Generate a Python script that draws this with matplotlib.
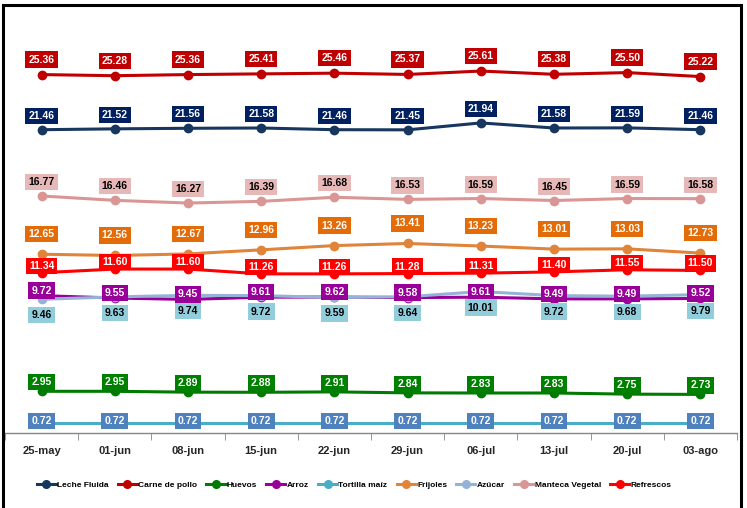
import matplotlib.pyplot as plt
from matplotlib import font_manager as fm
from matplotlib.patches import Rectangle
from matplotlib.lines import Line2D

# pick a narrow font if there is one (Excel chart uses Calibri)
fam = 'Liberation Sans'
try:
    fm.findfont(fm.FontProperties(family='Liberation Sans Narrow'), fallback_to_default=False)
    fam = 'Liberation Sans Narrow'
except Exception:
    pass
plt.rcParams['font.family'] = [fam, 'DejaVu Sans']

fechas = ['25-may', '01-jun', '08-jun', '15-jun', '22-jun', '29-jun', '06-jul', '13-jul', '20-jul', '03-ago']

leche = [21.46, 21.52, 21.56, 21.58, 21.46, 21.45, 21.94, 21.58, 21.59, 21.46]
carne = [25.36, 25.28, 25.36, 25.41, 25.46, 25.37, 25.61, 25.38, 25.50, 25.22]
huevos = [2.95, 2.95, 2.89, 2.88, 2.91, 2.84, 2.83, 2.83, 2.75, 2.73]
arroz = [9.72, 9.55, 9.45, 9.61, 9.62, 9.58, 9.61, 9.49, 9.49, 9.52]
tortilla = [0.72, 0.72, 0.72, 0.72, 0.72, 0.72, 0.72, 0.72, 0.72, 0.72]
frijoles = [12.65, 12.56, 12.67, 12.96, 13.26, 13.41, 13.23, 13.01, 13.03, 12.73]
azucar = [9.46, 9.63, 9.74, 9.72, 9.59, 9.64, 10.01, 9.72, 9.68, 9.79]
manteca = [16.77, 16.46, 16.27, 16.39, 16.68, 16.53, 16.59, 16.45, 16.59, 16.58]
refrescos = [11.34, 11.60, 11.60, 11.26, 11.26, 11.28, 11.31, 11.40, 11.55, 11.50]

# name, values, line colour, label box colour, label text colour, label offset (px)
series = [
    ('Leche Fluida', leche, '#17375E', '#002060', 'white', 14),
    ('Carne de pollo', carne, '#C00000', '#C00000', 'white', 15),
    ('Huevos', huevos, '#007A00', '#008000', 'white', 9),
    ('Arroz', arroz, '#990099', '#990099', 'white', 5),
    ('Tortilla maíz', tortilla, '#4BACC6', '#4F81BD', 'white', 2),
    ('Frijoles', frijoles, '#E0843A', '#E36C09', 'white', 20),
    ('Azúcar', azucar, '#95B3D7', '#92CDDC', 'black', -16),
    ('Manteca Vegetal', manteca, '#D99694', '#E6B9B8', 'black', 14),
    ('Refrescos', refrescos, '#FF0000', '#FF0000', 'white', 7),
]

fig = plt.figure(figsize=(7.47, 5.08), dpi=100)
ax = fig.add_axes([5/747, 1 - 433/508, 732/747, 424/508])

x = list(range(len(fechas)))
handles = []
for name, vals, lc, bc, tc, off in series:
    ax.plot(x, vals, color=lc, lw=2.2, marker='o', markersize=6,
            markerfacecolor=lc, markeredgecolor=lc, zorder=3, solid_capstyle='round')
    for xi, v in zip(x, vals):
        ax.annotate('%.2f' % v, (xi, v), xytext=(0, off * 0.72), textcoords='offset points',
                    ha='center', va='center', fontsize=7.5, fontweight='bold', color=tc,
                    bbox=dict(boxstyle='square,pad=0.3', fc=bc, ec='none'), zorder=5)
    handles.append(Line2D([], [], color=lc, lw=2.2, marker='o', markersize=5.5,
                          markerfacecolor=lc, markeredgecolor=lc))

ax.set_xlim(-0.5, len(fechas) - 0.5)
ax.set_ylim(0, 30)
ax.set_xticks(x)
ax.set_xticklabels(fechas, fontsize=8, fontweight='bold', color='#262626')
ax.set_xticks([i - 0.5 for i in range(len(fechas) + 1)], minor=True)
ax.tick_params(axis='x', which='major', length=0, pad=9)
ax.tick_params(axis='x', which='minor', length=5, color='#868686', direction='out')
ax.set_yticks([])
for s in ['left', 'right', 'top']:
    ax.spines[s].set_visible(False)
ax.spines['bottom'].set_color('#868686')
ax.spines['bottom'].set_linewidth(1)

fig.legend(handles, [s[0] for s in series], loc='center', bbox_to_anchor=(354/747, 1 - 485/508),
           ncol=9, frameon=False, handlelength=2.3, handletextpad=0.15,
           columnspacing=1.1, prop={'weight': 'bold', 'size': 6})

# outer chart frame
fig.patches.append(Rectangle((3/747, -0.05), 738/747, 1.05 - 5/508, transform=fig.transFigure,
                             fill=False, ec='black', lw=2.2))

fig.savefig('out.png', dpi=100)
